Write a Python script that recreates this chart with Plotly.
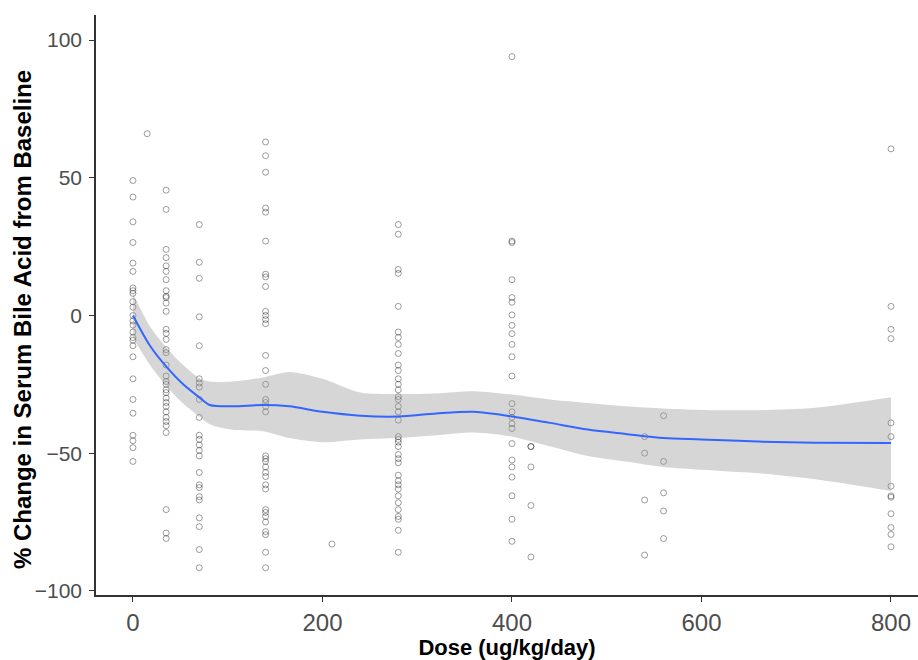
import plotly.graph_objects as go

# Observed % change in serum bile acid, grouped by dose level (ug/kg/day)
dose_levels = [0, 15, 35, 70, 140, 210, 280, 400, 420, 540, 560, 800]
change_0 = [49, 43, 34, 26.5, 19, 16, 10, 9, 8, 5, 3, 0, -2, -3.5, -6, -8, -9, -11,
            -15, -23, -30.5, -35.5, -43.5, -45.5, -48, -53]
change_15 = [66]
change_35 = [45.5, 38.5, 24, 21, 18, 16, 13, 9, 7, 6.5, 4.5, 1.5, -5, -6.5, -8.7,
             -12.4, -13.5, -18, -22, -24, -25, -27, -28, -30, -31.6, -33, -35, -37,
             -38.5, -40, -42.5, -70.5, -79, -81]
change_70 = [33, 19.3, 13.5, -0.5, -11, -23, -24.5, -26, -30.5, -37, -43.5, -45, -47,
             -49, -51, -57, -61.5, -62.5, -65.8, -67, -73.5, -76.7, -85, -91.6]
change_140 = [63, 58, 52, 39, 37.5, 27, 15, 14, 10.5, 1.5, 0, -1.5, -3, -14.5, -20,
              -25, -30.5, -31.6, -33, -35, -51, -52, -53, -55, -57, -58.5, -61.5, -63,
              -70.5, -71.5, -73, -75, -78.5, -79.6, -86, -91.6]
change_210 = [-83]
change_280 = [33, 29.5, 16.7, 15.3, 3.3, -6, -8, -10.5, -13.8, -18, -20, -23, -25, -27,
              -29.5, -30.5, -33, -35, -38, -44, -45, -46, -47.6, -50.5, -52, -53.5, -58,
              -60, -61.5, -63, -65.5, -68, -70.5, -73, -74, -78, -86]
change_400 = [94, 27, 26.5, 13, 6.5, 4.8, 0.2, -3.6, -6.6, -10.5, -15, -22, -32, -35,
              -37, -39.3, -41, -46.5, -52.5, -55, -58.7, -65.5, -74, -82]
change_420 = [-47.6, -47.6, -55, -69, -87.7]
change_540 = [-44, -50, -67, -87]
change_560 = [-36.4, -53, -64.4, -71, -81]
change_800 = [60.5, 3.3, -5, -8.4, -39, -44, -62, -65.5, -66, -72, -77, -79.5, -84]

changes_by_dose = [change_0, change_15, change_35, change_70, change_140, change_210,
                   change_280, change_400, change_420, change_540, change_560, change_800]

# LOESS smooth with its 95% confidence band
smooth_dose = [0, 18, 35, 53, 71, 81, 105, 137, 165, 200, 240, 280, 320, 360, 400,
               440, 480, 520, 560, 600, 660, 720, 800]
smooth_fit = [0, -11, -18.5, -25, -30, -32.5, -33, -32.5, -33, -35, -36.4, -36.7,
              -35.6, -35, -36.7, -39, -41.4, -43, -44.5, -45, -45.8, -46.2, -46.3]
smooth_upper = [8, -4, -11.5, -18, -23, -24, -24, -22.5, -20.5, -23, -28, -28.5, -28.3,
                -27.5, -28.7, -30.5, -31.8, -33, -33.8, -34.3, -34.4, -33.5, -29.7]
smooth_lower = [-8, -18, -25.5, -32, -37, -39.5, -41.5, -42, -44.5, -46, -45, -44.5,
                -43.5, -42.5, -44, -47.5, -51, -53, -55, -56, -57.3, -59.5, -63.7]

x_ticks = [0, 200, 400, 600, 800]
y_ticks = [-100, -50, 0, 50, 100]

pt_x, pt_y = [], []
for d, vals in zip(dose_levels, changes_by_dose):
    pt_x.extend([d] * len(vals))
    pt_y.extend(vals)

fig = go.Figure()

fig.add_trace(go.Scatter(
    x=pt_x, y=pt_y, mode="markers",
    marker=dict(symbol="circle-open", size=6, color="rgba(0,0,0,0.38)",
                line=dict(width=1)),
    hoverinfo="x+y", showlegend=False))

# confidence band: lower edge, then upper edge filled down to it
fig.add_trace(go.Scatter(
    x=smooth_dose, y=smooth_lower, mode="lines",
    line=dict(width=0, shape="spline", smoothing=0.8, color="rgba(0,0,0,0)"),
    hoverinfo="skip", showlegend=False))
fig.add_trace(go.Scatter(
    x=smooth_dose, y=smooth_upper, mode="lines", fill="tonexty",
    fillcolor="rgba(153,153,153,0.4)",
    line=dict(width=0, shape="spline", smoothing=0.8, color="rgba(0,0,0,0)"),
    hoverinfo="skip", showlegend=False))

fig.add_trace(go.Scatter(
    x=smooth_dose, y=smooth_fit, mode="lines",
    line=dict(color="#3366FF", width=2, shape="spline", smoothing=0.8),
    showlegend=False))

axis_common = dict(showgrid=False, zeroline=False, showline=True, linecolor="#333333",
                   linewidth=1.6, ticks="outside", ticklen=5, tickcolor="#333333",
                   tickwidth=1.2)

fig.update_layout(
    width=918, height=660,
    margin=dict(l=96, r=0, t=15, b=65),
    paper_bgcolor="white", plot_bgcolor="white",
    font=dict(family="Liberation Sans, Arial, sans-serif"),
    xaxis=dict(range=[-39, 828.5], tickvals=x_ticks,
               tickfont=dict(size=24, color="#4d4d4d"),
               title=dict(text="<b>Dose (ug/kg/day)</b>",
                          font=dict(size=22, color="black"), standoff=9),
               **axis_common),
    yaxis=dict(range=[-101.5, 109.1], tickvals=y_ticks, ticklabelstandoff=3,
               tickfont=dict(size=21, color="#4d4d4d"),
               **axis_common),
    annotations=[dict(
        text="<b>% Change in Serum Bile Acid from Baseline</b>",
        textangle=-90, xref="paper", yref="paper", x=-0.09, y=0.474,
        xanchor="center", yanchor="middle", showarrow=False,
        font=dict(size=24, color="black"))],
)

fig.write_html("out.html")
